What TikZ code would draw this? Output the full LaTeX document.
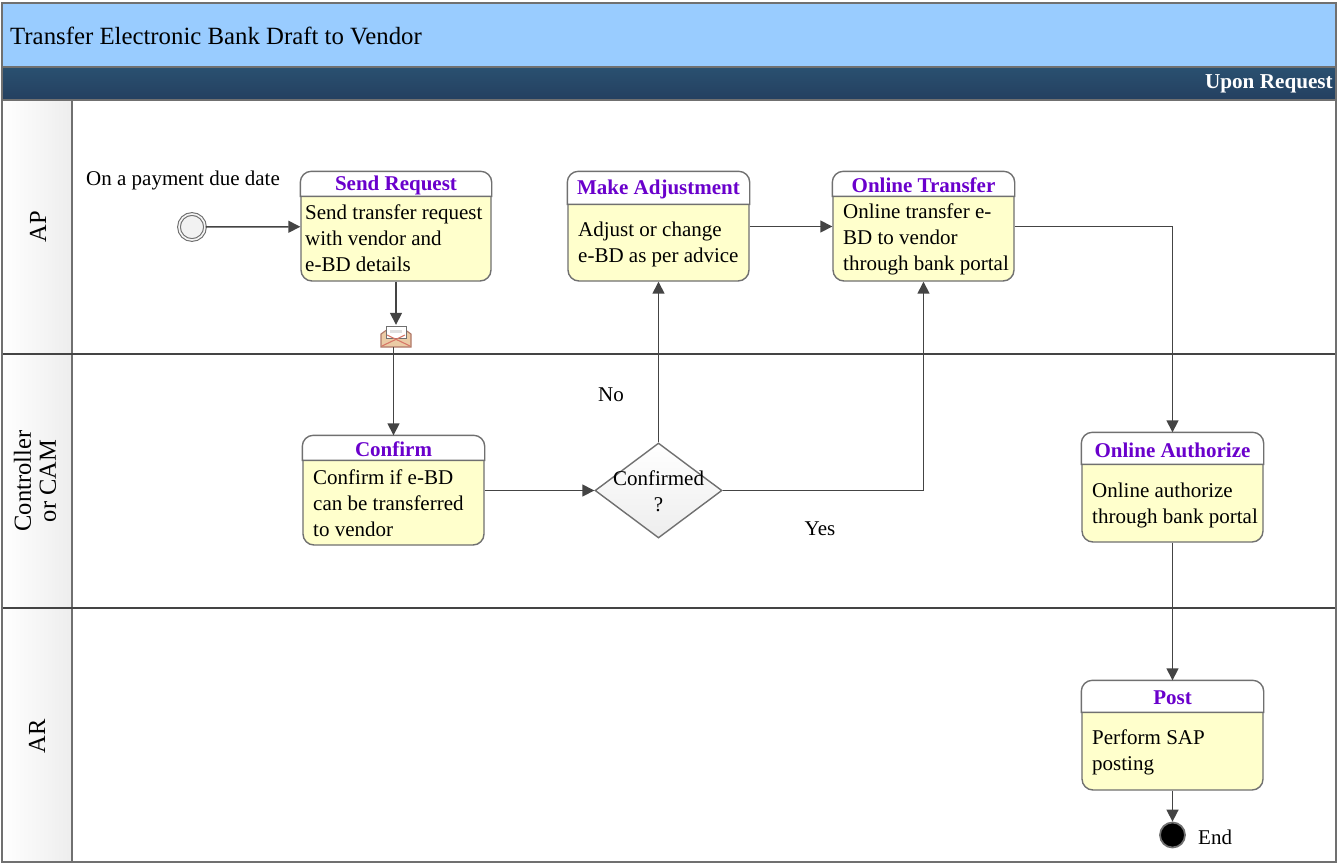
\documentclass[tikz,border=0pt]{standalone}
\usepackage{fontspec}
\setmainfont{Liberation Serif}
\usetikzlibrary{arrows.meta}
\usetikzlibrary{positioning, calc}
\usetikzlibrary{shapes.geometric}
\definecolor{bandblue}{HTML}{99CCFF}
\definecolor{banddark}{HTML}{2A5070}
\definecolor{banddeep}{HTML}{244060}
\definecolor{taskyellow}{HTML}{FFFFCC}
\definecolor{titlepurple}{HTML}{6A00CC}
\definecolor{linegray}{HTML}{444444}
\definecolor{edgegray}{HTML}{707070}
\definecolor{mailfill}{HTML}{EBCBA5}
\definecolor{mailedge}{HTML}{B07868}
\definecolor{mailcross}{HTML}{D87868}

\begin{document}
\begin{tikzpicture}[
    x=1pt, y=-1pt,
    flow/.style={linegray, line width=1.5pt, -{Triangle[length=12pt, width=12pt]}},
    task/.style={draw=edgegray, line width=1.4pt, fill=taskyellow, rounded corners=11pt, minimum width=181pt, minimum height=109pt, inner sep=0pt},
    tasktext/.style={align=left, anchor=west, inner sep=0pt, font=\fontsize{21}{26}\selectfont},
    tasktitle/.style={inner sep=0pt, text=titlepurple, font=\fontsize{21}{24}\selectfont\bfseries},
    label/.style={inner sep=0pt, font=\fontsize{21}{24}\selectfont},
    lane/.style={inner sep=0pt, rotate=90, align=center, font=\fontsize{24.5}{27}\selectfont},
    sep/.style={draw=linegray, line width=2.2pt}
]
    \useasboundingbox (0,0) rectangle (1343,863);
    \fill[white] (0,0) rectangle (1343,863);

    \fill[bandblue] (2,3) rectangle (1336,67);
    \path[top color=banddark, bottom color=banddeep] (2,67) rectangle (1336,100);
    \path[left color=white, right color=black!7] (2,100) rectangle (72,862);
    \draw[edgegray, line width=1.2pt] (72,100) -- (72,862);
    \draw[edgegray, line width=1.2pt] (2,67) -- (1336,67);
    \draw[edgegray, line width=1.2pt] (2,100) -- (1336,100);
    \draw[sep] (2,354) -- (1336,354);
    \draw[sep] (2,608) -- (1336,608);
    \draw[edgegray, line width=1.4pt] (2,3) rectangle (1336,862);

    \node[inner sep=0pt, anchor=west, font=\fontsize{24.8}{28}\selectfont] (title) at (10,36) {Transfer Electronic Bank Draft to Vendor};
    \node[inner sep=0pt, anchor=east, text=white, font=\fontsize{21.2}{24}\selectfont\bfseries] (freq) at (1333,84) {Upon Request};

    \node[lane] (ap) at (38,227) {AP};
    \node[lane] (cam) at (35,481) {Controller\\[-2pt]or CAM};
    \node[lane] (ar) at (37,736) {AR};

    % Tasks:
    \node[task, minimum width=190pt] (send) at (396,226.5) {};
    \node[task] (adjust) at (658.5,226.5) {};
    \node[task] (online) at (923.5,226.5) {};
    \node[task] (confirm) at (393.5,490.5) {};
    \node[task] (authorize) at (1172.5,487.5) {};
    \node[task] (post) at (1172.5,735.5) {};

    \foreach \t/\h in {send/25, adjust/33, online/25, confirm/25, authorize/32, post/32} {
        \draw[edgegray, line width=1.4pt, fill=white]
            ($(\t.north west)+(0,\h)$) [rounded corners=11pt] -- (\t.north west) -- (\t.north east)
            [sharp corners] -- ($(\t.north east)+(0,\h)$) -- cycle;
    }

    \node[tasktitle] (sendhead) at (396,185) {Send Request};
    \node[tasktitle] (adjusthead) at (658.5,189) {Make Adjustment};
    \node[tasktitle] (onlinehead) at (923.5,185) {Online Transfer};
    \node[tasktitle] (confirmhead) at (393.5,449) {Confirm};
    \node[tasktitle] (authorizehead) at (1172.5,450) {Online Authorize};
    \node[tasktitle] (posthead) at (1172.5,698) {Post};

    \node[tasktext] (sendtext) at (305,238.5) {Send transfer request\\with vendor and\\e-BD details};
    \node[tasktext] (adjusttext) at (578,244) {Adjust or change\\e-BD as per advice};
    \node[tasktext] (onlinetext) at (843,239) {Online transfer e-\\BD to vendor\\through bank portal};
    \node[tasktext] (confirmtext) at (313,503) {Confirm if e-BD\\can be transferred\\to vendor};
    \node[tasktext] (authorizetext) at (1092,505) {Online authorize\\through bank portal};
    \node[tasktext] (posttext) at (1092,752) {Perform SAP\\posting};

    % Events:
    \node[circle, draw=edgegray, line width=1.1pt, fill=black!5, minimum size=26pt, inner sep=0pt, double=black!4, double distance=1.6pt] (start) at (192,227) {};
    \node[circle, draw=edgegray, line width=1.8pt, fill=black, minimum size=25pt, inner sep=0pt] (end) at (1172.5,835) {};
    \node[diamond, draw=edgegray, line width=1.4pt, top color=white, bottom color=black!7, minimum width=127pt, minimum height=95pt, inner sep=0pt] (check) at (658.5,490.5) {};
    \node[inner sep=0pt, align=center, font=\fontsize{21}{26}\selectfont] (checktext) at (658.5,491) {Confirmed\\?};

    % Message:
    \node[minimum width=30pt, minimum height=22pt, inner sep=0pt] (mail) at (396,336) {};
    \draw[mailedge, line width=1.1pt, fill=mailfill] (381,334) -- (388,329) -- (404,329) -- (411,334) -- (411,347) -- (381,347) -- cycle;
    \draw[edgegray, fill=white, line width=.8pt] (386,338) -- (386,326) -- (406,326) -- (406,338) -- cycle;
    \draw[mailcross, line width=1.1pt] (382,346) -- (405,335);
    \draw[mailcross, line width=1.1pt] (410,346) -- (387,335);
    \fill[black!12] (390,330) rectangle (402,333);

    \node[label] (due) at (183,180) {On a payment due date};
    \node[label] (no) at (611,395) {No};
    \node[label] (yes) at (820,529) {Yes};
    \node[label, anchor=west] (endtext) at (1198,837) {End};

    \draw[flow] (start) -- (send);
    \draw[flow] (send) -- (mail.north);
    \draw[flow] (mail.south -| confirm.north) -- (confirm);
    \draw[flow] (confirm) -- (check.west);
    \draw[flow] (check.north) -- (adjust);
    \draw[flow] (check.east) -| (online);
    \draw[flow] (adjust) -- (online);
    \draw[flow] (online) -| (authorize);
    \draw[flow] (authorize) -- (post);
    \draw[flow] (post) -- (end);
\end{tikzpicture}
\end{document}
